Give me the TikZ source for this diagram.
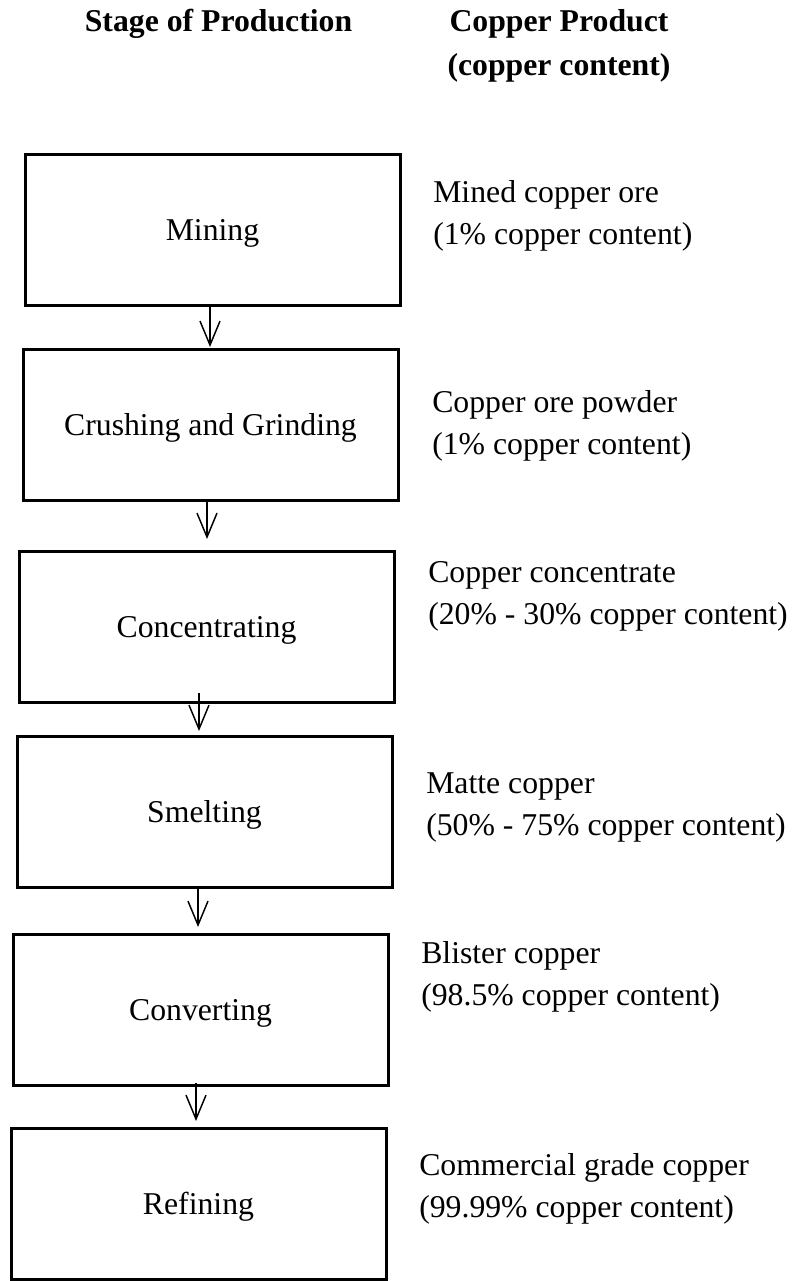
\documentclass[tikz,border=0pt]{standalone}
\usepackage{fontspec}
\setmainfont{Liberation Serif}
\usetikzlibrary{arrows.meta,calc}
\begin{document}
\begin{tikzpicture}[x=0.75pt,y=-0.75pt,
  stagebox/.style={draw,line width=2.25pt,minimum width=281.25pt,minimum height=113.25pt,
    inner sep=0pt,text height=18.75pt,text depth=3.75pt,font=\fontsize{23.8}{31.5}\selectfont},
  product/.style={anchor=base west,inner sep=0pt,font=\fontsize{23.8}{31.5}\selectfont},
  header/.style={anchor=base,inner sep=0pt,font=\fontsize{23.8}{32.3}\selectfont\bfseries},
  arr/.style={line width=1.1pt,-{Straight Barb[length=18pt,width=15pt,line width=1.1pt]}}]
\useasboundingbox (0,0) rectangle (793,1281);

% headers
\node[header] (h1) at (218.5,32) {Stage of Production};
\node[header] (h2) at (559,32) {\begin{tabular}[t]{@{}c@{}}Copper Product\\(copper content)\end{tabular}};

% stage boxes
\node[stagebox] (b1) at (212.5,230) {Mining};
\node[stagebox] (b2) at (210.5,425) {Crushing and Grinding};
\node[stagebox] (b3) at (206.5,627) {Concentrating};
\node[stagebox] (b4) at (204.5,812) {Smelting};
\node[stagebox] (b5) at (200.5,1010) {Converting};
\node[stagebox] (b6) at (198.5,1204) {Refining};

% products
\node[product] (p1) at (433,202) {\begin{tabular}[t]{@{}l@{}}Mined copper ore\\(1\% copper content)\end{tabular}};
\node[product] (p2) at (432,412) {\begin{tabular}[t]{@{}l@{}}Copper ore powder\\(1\% copper content)\end{tabular}};
\node[product] (p3) at (428,582) {\begin{tabular}[t]{@{}l@{}}Copper concentrate\\(20\% - 30\% copper content)\end{tabular}};
\node[product] (p4) at (426,793) {\begin{tabular}[t]{@{}l@{}}Matte copper\\(50\% - 75\% copper content)\end{tabular}};
\node[product] (p5) at (421,963) {\begin{tabular}[t]{@{}l@{}}Blister copper\\(98.5\% copper content)\end{tabular}};
\node[product] (p6) at (419,1175) {\begin{tabular}[t]{@{}l@{}}Commercial grade copper\\(99.99\% copper content)\end{tabular}};

% arrows
\draw[arr] ($(b1.south)+(-2.5,0)$) -- ($(b2.north)+(-0.5,-1)$);
\draw[arr] ($(b2.south)+(-3.5,-2)$) -- ($(b3.north)+(0.5,-11)$);
\draw[arr] ($(b3.south)+(-7.5,-11)$) -- ($(b4.north)+(-5.5,-4)$);
\draw[arr] ($(b4.south)+(-6.5,0)$) -- ($(b5.north)+(-2.5,-6)$);
\draw[arr] ($(b5.south)+(-4.5,-4)$) -- ($(b6.north)+(-2.5,-6)$);
\end{tikzpicture}
\end{document}
